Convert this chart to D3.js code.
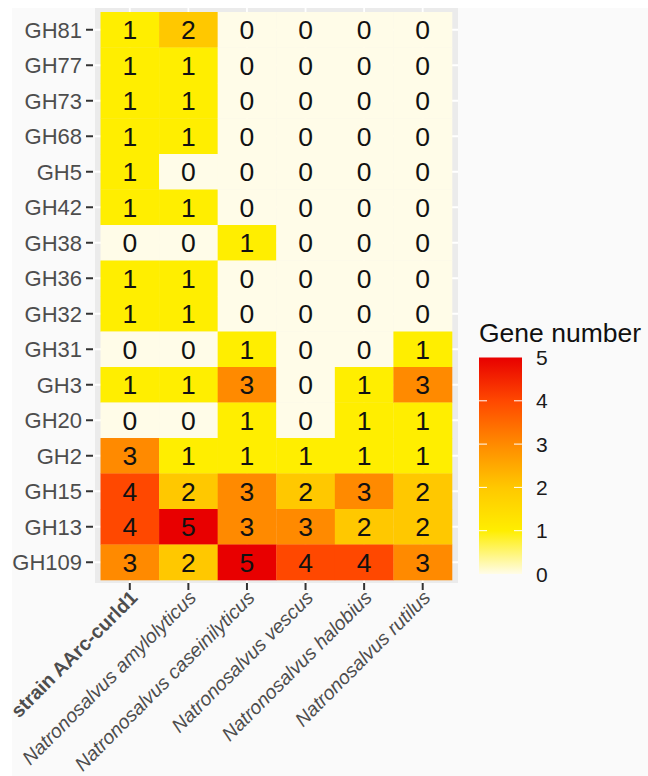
<!DOCTYPE html>
<html lang="en">
  <head>
    <meta charset="UTF-8" />
    <title>Gene number heatmap</title>
    <script src="https://d3js.org/d3.v7.min.js"></script>
    <style>
      body { margin: 0; background: #fff; }
      text { font-family: "Liberation Sans", Arial, sans-serif; }
    </style>
  </head>
  <body>
    <svg id="chart" width="648" height="776"></svg>

    <script>
      // GH families, top to bottom
      const genes = ["GH81", "GH77", "GH73", "GH68", "GH5", "GH42", "GH38", "GH36",
        "GH32", "GH31", "GH3", "GH20", "GH2", "GH15", "GH13", "GH109"];

      const species = ["strain AArc-curld1", "Natronosalvus amylolyticus",
        "Natronosalvus caseinilyticus", "Natronosalvus vescus",
        "Natronosalvus halobius", "Natronosalvus rutilus"];

      // gene counts per species, in the same order as genes
      const aarc = [1, 1, 1, 1, 1, 1, 0, 1, 1, 0, 1, 0, 3, 4, 4, 3];
      const amylolyticus = [2, 1, 1, 1, 0, 1, 0, 1, 1, 0, 1, 0, 1, 2, 5, 2];
      const caseinilyticus = [0, 0, 0, 0, 0, 0, 1, 0, 0, 1, 3, 1, 1, 3, 3, 5];
      const vescus = [0, 0, 0, 0, 0, 0, 0, 0, 0, 0, 0, 0, 1, 2, 3, 4];
      const halobius = [0, 0, 0, 0, 0, 0, 0, 0, 0, 0, 1, 1, 1, 3, 2, 4];
      const rutilus = [0, 0, 0, 0, 0, 0, 0, 0, 0, 1, 3, 1, 1, 2, 2, 3];

      const legendTicks = [0, 1, 2, 3, 4, 5];

      const series = [aarc, amylolyticus, caseinilyticus, vescus, halobius, rutilus];
      const cells = [];
      species.forEach((s, i) => {
        genes.forEach((g, j) => cells.push({ species: s, gene: g, value: series[i][j] }));
      });

      const svg = d3.select("#chart");

      // plot background
      svg.append("rect").attr("x", 12).attr("y", 8).attr("width", 636).attr("height", 768)
        .attr("fill", "#fafafa");

      const x = d3.scaleBand().domain(species).range([100.5, 452]);
      const y = d3.scaleBand().domain(genes).range([12, 580]);

      const color = d3.scaleLinear()
        .domain([0, 1, 2, 3, 4, 5])
        .range(["#fffce8", "#ffee00", "#ffc800", "#ff8a00", "#ff4800", "#e80000"]);

      // panel
      svg.append("rect").attr("x", 95).attr("y", 8).attr("width", 363).attr("height", 575)
        .attr("fill", "#ebebeb");

      const grid = svg.append("g").attr("stroke", "#fff").attr("stroke-width", 1.8);
      species.forEach((s) => {
        const cx = x(s) + x.bandwidth() / 2;
        grid.append("line").attr("x1", cx).attr("x2", cx).attr("y1", 8).attr("y2", 583);
      });
      genes.forEach((g) => {
        const cy = y(g) + y.bandwidth() / 2;
        grid.append("line").attr("x1", 95).attr("x2", 458).attr("y1", cy).attr("y2", cy);
      });

      // tiles
      svg.selectAll(".tile").data(cells).enter().append("rect")
        .attr("class", "tile")
        .attr("x", (d) => x(d.species))
        .attr("y", (d) => y(d.gene))
        .attr("width", x.bandwidth() + 0.3)
        .attr("height", y.bandwidth() + 0.3)
        .attr("fill", (d) => color(d.value));

      svg.selectAll(".val").data(cells).enter().append("text")
        .attr("class", "val")
        .attr("x", (d) => x(d.species) + x.bandwidth() / 2)
        .attr("y", (d) => y(d.gene) + y.bandwidth() / 2)
        .attr("text-anchor", "middle")
        .attr("dy", "0.36em")
        .attr("font-size", 26.5)
        .attr("fill", "#111")
        .text((d) => d.value);

      // y axis
      const yAxis = svg.append("g");
      genes.forEach((g) => {
        const cy = y(g) + y.bandwidth() / 2;
        yAxis.append("line").attr("x1", 86).attr("x2", 93).attr("y1", cy).attr("y2", cy)
          .attr("stroke", "#333").attr("stroke-width", 2);
        yAxis.append("text")
          .attr("x", 82)
          .attr("y", cy)
          .attr("text-anchor", "end")
          .attr("dy", "0.36em")
          .attr("font-size", 22)
          .attr("fill", "#4d4d4d")
          .text(g);
      });

      // x axis
      const xAxis = svg.append("g");
      species.forEach((s, i) => {
        const cx = x(s) + x.bandwidth() / 2;
        xAxis.append("line").attr("x1", cx).attr("x2", cx).attr("y1", 583).attr("y2", 590)
          .attr("stroke", "#333").attr("stroke-width", 2);
        xAxis.append("text")
          .attr("transform", `translate(${cx - 1},${589}) rotate(-45)`)
          .attr("text-anchor", "end")
          .attr("dy", "0.72em")
          .attr("font-size", 19.5)
          .attr("font-weight", i === 0 ? "bold" : "normal")
          .attr("font-style", i === 0 ? "normal" : "italic")
          .attr("fill", "#4d4d4d")
          .text(s);
      });

      // legend
      const ly = d3.scaleLinear().domain([0, 5]).range([574, 357.5]);
      const defs = svg.append("defs");
      const grad = defs.append("linearGradient").attr("id", "bar")
        .attr("x1", 0).attr("x2", 0).attr("y1", 1).attr("y2", 0);
      legendTicks.forEach((v) => {
        grad.append("stop").attr("offset", v / 5).attr("stop-color", color(v));
      });
      svg.append("rect").attr("x", 479).attr("y", ly(5)).attr("width", 43)
        .attr("height", ly(0) - ly(5)).attr("fill", "url(#bar)");

      legendTicks.forEach((v) => {
        if (v > 0 && v < 5) {
          svg.append("line").attr("x1", 479).attr("x2", 487).attr("y1", ly(v)).attr("y2", ly(v))
            .attr("stroke", "#fff").attr("stroke-width", 1);
          svg.append("line").attr("x1", 514).attr("x2", 522).attr("y1", ly(v)).attr("y2", ly(v))
            .attr("stroke", "#fff").attr("stroke-width", 1);
        }
        svg.append("text")
          .attr("x", 536)
          .attr("y", ly(v))
          .attr("dy", "0.36em")
          .attr("font-size", 21)
          .attr("fill", "#1a1a1a")
          .text(v);
      });

      svg.append("text")
        .attr("x", 479)
        .attr("y", 342)
        .attr("font-size", 26.5)
        .attr("fill", "#111")
        .text("Gene number");
    </script>
  </body>
</html>
